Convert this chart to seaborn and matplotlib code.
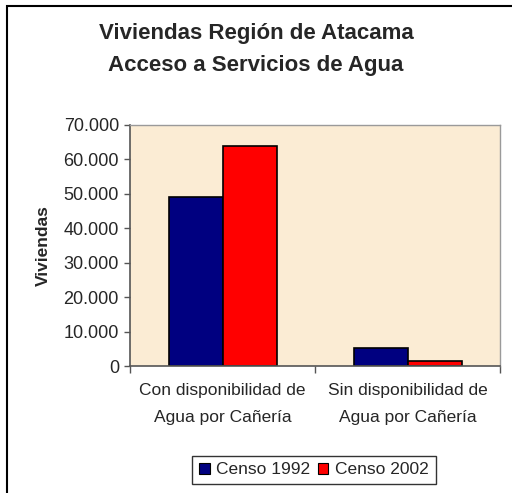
import matplotlib
matplotlib.use("Agg")
import matplotlib.pyplot as plt
import matplotlib.ticker as mticker
from matplotlib.patches import Patch, Rectangle
import seaborn as sns
import pandas as pd

categorias = ["Con disponibilidad de\nAgua por Cañería", "Sin disponibilidad de\nAgua por Cañería"]
censos = ["Censo 1992", "Censo 2002"]
censo_1992 = [49200, 5300]
censo_2002 = [63900, 1450]
colores = ["#000080", "#FF0000"]

df = pd.DataFrame({
    "categoria": categorias * 2,
    "censo": [censos[0]] * 2 + [censos[1]] * 2,
    "viviendas": censo_1992 + censo_2002,
})

sns.set_style("white")
plt.rcParams["font.family"] = ["Liberation Sans", "DejaVu Sans"]

fig = plt.figure(figsize=(5.12, 4.93), dpi=100)
ax = fig.add_axes([0.254, 0.2576, 0.723, 0.4889])

sns.barplot(data=df, x="categoria", y="viviendas", hue="censo", palette=colores,
            width=0.584, gap=0, edgecolor="black", linewidth=1.2, saturation=1,
            legend=False, ax=ax)

ax.set_facecolor("#FBECD4")
ax.set_xlim(-0.5, 1.5)
ax.set_ylim(0, 70000)
ax.yaxis.set_major_locator(mticker.MultipleLocator(10000))
ax.yaxis.set_major_formatter(mticker.FuncFormatter(lambda v, p: f"{int(v):,}".replace(",", ".")))
ax.tick_params(axis="y", labelsize=13, length=4, width=1, color="#555555", direction="out", left=True, pad=4)
ax.tick_params(axis="x", which="major", labelsize=12.5, length=0, pad=12)
ax.set_xticks([-0.5, 0.5, 1.5], minor=True)
ax.tick_params(axis="x", which="minor", length=5, width=1, color="#555555", direction="out", bottom=True)
for lbl in ax.get_xticklabels():
    lbl.set_linespacing(2.0)
ax.set_xlabel("")
ax.set_ylabel("Viviendas", fontsize=12.5, fontweight="bold", labelpad=9)

for side in ["left", "bottom"]:
    ax.spines[side].set_color("#555555")
    ax.spines[side].set_linewidth(1.2)
for side in ["top", "right"]:
    ax.spines[side].set_color("#9a9a9a")
    ax.spines[side].set_linewidth(1)

fig.text(0.5, 0.933, "Viviendas Región de Atacama", ha="center", va="center", fontsize=16, fontweight="bold")
fig.text(0.5, 0.868, "Acceso a Servicios de Agua", ha="center", va="center", fontsize=16, fontweight="bold")

handles = [Patch(facecolor=c, edgecolor="black", linewidth=0.8) for c in colores]
leg = fig.legend(handles, censos, loc="center", bbox_to_anchor=(0.613, 0.0467), ncol=2,
                 fontsize=12.5, frameon=True, fancybox=False, handlelength=0.6, handleheight=0.6,
                 handletextpad=0.4, columnspacing=0.4, borderpad=0.4, borderaxespad=0)
leg.get_frame().set_edgecolor("black")
leg.get_frame().set_linewidth(1)

fig.patches.append(Rectangle((7 / 512, -0.1), 1.2, 1 - 6 / 493 + 0.1, transform=fig.transFigure,
                             fill=False, edgecolor="black", linewidth=1.5))

fig.savefig("out.png", dpi=100, facecolor="white")
